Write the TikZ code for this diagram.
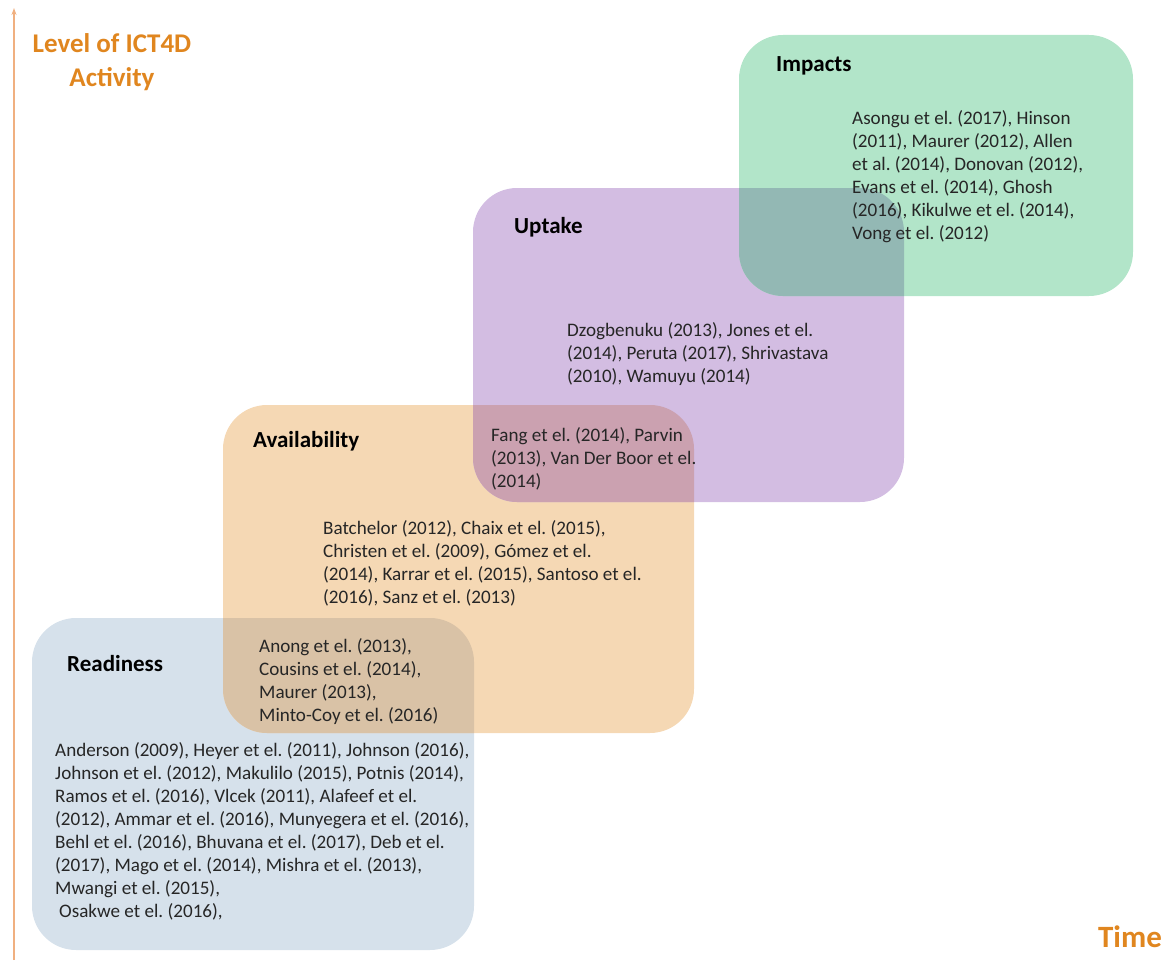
\documentclass[tikz,border=0pt]{standalone}
\usepackage{fontspec}
\setmainfont{Carlito}
\usetikzlibrary{arrows.meta}
\frenchspacing
\definecolor{readc}{RGB}{214,225,235}
\definecolor{availc}{RGB}{245,216,180}
\definecolor{uptc}{RGB}{211,189,226}
\definecolor{impc}{RGB}{178,229,201}
\definecolor{ovra}{RGB}{217,194,166}
\definecolor{ovau}{RGB}{203,161,176}
\definecolor{ovui}{RGB}{147,184,180}
\definecolor{txt}{RGB}{38,38,38}
\definecolor{orng}{RGB}{224,134,31}
\definecolor{axisc}{RGB}{240,176,128}
\tikzset{
  box/.style={rounded corners=44pt},
  ttl/.style={anchor=west, inner sep=0pt, text=black, font=\fontsize{23}{27}\selectfont\bfseries},
  body/.style={anchor=north west, inner sep=0pt, align=left, text=txt, font=\fontsize{19.1}{23}\selectfont\frenchspacing},
  axlbl/.style={inner sep=0pt, text=orng, align=center, font=\bfseries},
}
\begin{document}
\begin{tikzpicture}[x=1pt,y=-1pt]
\useasboundingbox (0,0) rectangle (1173,963);
% boxes
\fill[readc, box] (32,618) rectangle (474,950);
\fill[availc, box] (223,405) rectangle (694,733);
\fill[uptc, box] (473,188) rectangle (904,502);
\fill[impc, box] (739,35) rectangle (1133,296);
% overlaps
\begin{scope}
  \clip[box] (32,618) rectangle (474,950);
  \fill[ovra, box] (223,405) rectangle (694,733);
\end{scope}
\begin{scope}
  \clip[box] (223,405) rectangle (694,733);
  \fill[ovau, box] (473,188) rectangle (904,502);
\end{scope}
\begin{scope}
  \clip[box] (473,188) rectangle (904,502);
  \fill[ovui, box] (739,35) rectangle (1133,296);
\end{scope}
% axis
\coordinate (axbot) at (14,960);
\coordinate (axtop) at (14,8);
\draw[axisc, line width=1.3pt, -{Stealth[length=7pt,width=5pt]}] (axbot) -- (axtop);
\node[axlbl, font=\fontsize{27}{34}\selectfont\bfseries] (ylab) at (112,62) {Level of ICT4D\\Activity};
\node[axlbl, font=\fontsize{31}{36}\selectfont\bfseries] (xlab) at (1130,937) {Time};
% titles
\node[ttl] (timp) at (776,66) {Impacts};
\node[ttl] (tupt) at (514,227) {Uptake};
\node[ttl] (tava) at (253,441) {Availability};
\node[ttl] (trea) at (67,664) {Readiness};
% bodies
\node[body] (bimp) at (852,110) {Asongu et el. (2017), Hinson\\(2011), Maurer (2012), Allen\\et al. (2014), Donovan (2012),\\Evans et el. (2014), Ghosh\\(2016), Kikulwe et el. (2014),\\Vong et el. (2012)};
\node[body] (bupt) at (567,322) {Dzogbenuku (2013), Jones et el.\\(2014), Peruta (2017), Shrivastava\\(2010), Wamuyu (2014)};
\node[body] (bau) at (491,427) {Fang et el. (2014), Parvin\\(2013), Van Der Boor et el.\\(2014)};
\node[body] (bava) at (323,520) {Batchelor (2012), Chaix et el. (2015),\\Christen et el. (2009), Gómez et el.\\(2014), Karrar et el. (2015), Santoso et el.\\(2016), Sanz et el. (2013)};
\node[body] (bra) at (259,638) {Anong et el. (2013),\\Cousins et el. (2014),\\Maurer (2013),\\Minto-Coy et el. (2016)};
\node[body] (brea) at (55,742) {Anderson (2009), Heyer et el. (2011), Johnson (2016),\\Johnson et el. (2012), Makulilo (2015), Potnis (2014),\\Ramos et el. (2016), Vlcek (2011), Alafeef et el.\\(2012), Ammar et el. (2016), Munyegera et el. (2016),\\Behl et el. (2016), Bhuvana et el. (2017), Deb et el.\\(2017), Mago et el. (2014), Mishra et el. (2013),\\Mwangi et el. (2015),\\\hspace*{4pt}Osakwe et el. (2016),};
\end{tikzpicture}
\end{document}
